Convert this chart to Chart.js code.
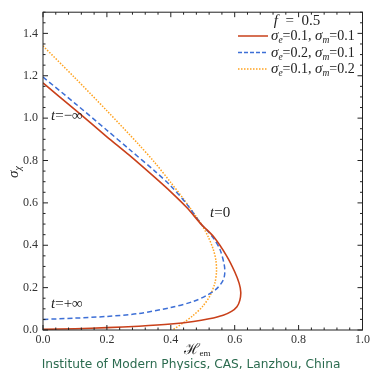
<!DOCTYPE html>
<html>
<head>
<meta charset="utf-8">
<script src="https://cdn.jsdelivr.net/npm/chart.js@4/dist/chart.umd.min.js"></script>
<style>
html,body{margin:0;padding:0;background:#fff;}
#wrap{width:373px;height:370px;}
</style>
</head>
<body>
<div id="wrap"><canvas id="c" width="373" height="370"></canvas></div>
<script>
// ---- data (parametric curves from t=-inf to t=+inf) ----
const redH   = [0, 0.1, 0.2, 0.27, 0.35, 0.4, 0.45, 0.497, 0.533, 0.575, 0.6, 0.614, 0.619, 0.616, 0.607, 0.59, 0.564, 0.52, 0.471, 0.4, 0.3, 0.2, 0.1, 0];
const redS   = [1.166, 1.04, 0.912, 0.825, 0.72, 0.652, 0.578, 0.496, 0.442, 0.349, 0.275, 0.22, 0.178, 0.14, 0.11, 0.088, 0.07, 0.053, 0.04, 0.028, 0.018, 0.011, 0.006, 0.003];
const blueH  = [0, 0.1, 0.2, 0.27, 0.35, 0.4, 0.45, 0.497, 0.512, 0.535, 0.554, 0.567, 0.569, 0.564, 0.543, 0.512, 0.471, 0.4, 0.3, 0.2, 0.1, 0];
const blueS  = [1.194, 1.07, 0.943, 0.853, 0.75, 0.68, 0.594, 0.496, 0.473, 0.43, 0.38, 0.31, 0.27, 0.235, 0.194, 0.163, 0.135, 0.106, 0.078, 0.064, 0.056, 0.05];
const orangeH = [0, 0.1, 0.2, 0.3, 0.35, 0.4, 0.44, 0.476, 0.497, 0.517, 0.533, 0.541, 0.543, 0.538, 0.523, 0.5, 0.471, 0.44, 0.405];
const orangeS = [1.341, 1.19, 1.035, 0.875, 0.79, 0.696, 0.618, 0.543, 0.496, 0.44, 0.38, 0.33, 0.275, 0.222, 0.163, 0.112, 0.07, 0.035, 0.0];
const seriesNames = [["0.1","0.1"],["0.2","0.1"],["0.1","0.2"]];
const xTicks = [0, 0.2, 0.4, 0.6, 0.8, 1.0];
const yTicks = [0, 0.2, 0.4, 0.6, 0.8, 1.0, 1.2, 1.4];
const xMinorStep = 0.04, yMinorStep = 0.05;
const footer = "Institute of Modern Physics, CAS, Lanzhou, China";

const toPts = (xs, ys) => xs.map((x, i) => ({x: x, y: ys[i]}));
const RED = '#c9401a', BLUE = '#3d6fd6', ORANGE = '#ffa21f';
const SERIF = "'Liberation Serif','Times New Roman',serif";

function rich(ctx, parts, x, y, align) {
  let w = 0;
  parts.forEach(p => { ctx.font = p[1]; w += ctx.measureText(p[0]).width; });
  let cx = align === 'center' ? x - w / 2 : (align === 'right' ? x - w : x);
  ctx.textAlign = 'left';
  parts.forEach(p => { ctx.font = p[1]; ctx.fillText(p[0], cx, y + (p[2] || 0)); cx += ctx.measureText(p[0]).width; });
}

const deco = {
  id: 'deco',
  afterDraw(chart) {
    const ctx = chart.ctx, a = chart.chartArea;
    const xs = chart.scales.x, ys = chart.scales.y;
    ctx.save();
    ctx.strokeStyle = '#222'; ctx.lineWidth = 1;
    ctx.strokeRect(a.left, a.top, a.right - a.left, a.bottom - a.top);
    ctx.beginPath();
    for (let i = 0; i <= Math.round(1 / xMinorStep); i++) {
      const v = i * xMinorStep, px = xs.getPixelForValue(v);
      const major = xTicks.some(t => Math.abs(t - v) < 1e-6);
      const L = major ? 5 : 2.5;
      ctx.moveTo(px, a.bottom); ctx.lineTo(px, a.bottom - L);
      ctx.moveTo(px, a.top); ctx.lineTo(px, a.top + L);
    }
    for (let i = 0; i <= Math.round(1.5 / yMinorStep); i++) {
      const v = i * yMinorStep, py = ys.getPixelForValue(v);
      const major = yTicks.some(t => Math.abs(t - v) < 1e-6);
      const L = major ? 5 : 2.5;
      ctx.moveTo(a.left, py); ctx.lineTo(a.left + L, py);
      ctx.moveTo(a.right, py); ctx.lineTo(a.right - L, py);
    }
    ctx.stroke();

    ctx.fillStyle = '#222';
    ctx.textBaseline = 'alphabetic';
    rich(ctx, [['f', 'italic 15px ' + SERIF], ['\u2002=\u20020.5', '15px ' + SERIF]], 297, 25, 'center');
    const cols = [RED, BLUE, ORANGE], dashes = [[], [4, 2], [1.5, 1.5]];
    const rows = [36, 52.5, 69];
    rows.forEach((ry, i) => {
      ctx.strokeStyle = cols[i]; ctx.lineWidth = 1.5; ctx.setLineDash(dashes[i]);
      ctx.beginPath(); ctx.moveTo(238, ry); ctx.lineTo(268, ry); ctx.stroke();
      ctx.setLineDash([]);
      ctx.fillStyle = '#222';
      rich(ctx, [
        ['σ', 'italic 15px ' + SERIF], ['e', 'italic 9.5px ' + SERIF, 3],
        ['=' + seriesNames[i][0] + ', ', '14px ' + SERIF],
        ['σ', 'italic 15px ' + SERIF], ['m', 'italic 9.5px ' + SERIF, 3],
        ['=' + seriesNames[i][1], '14px ' + SERIF]
      ], 271, ry + 4, 'left');
    });
    rich(ctx, [['t', 'italic 15px ' + SERIF], ['=−∞', '15px ' + SERIF]], 51, 120, 'left');
    rich(ctx, [['t', 'italic 15px ' + SERIF], ['=+∞', '15px ' + SERIF]], 51, 308, 'left');
    rich(ctx, [['t', 'italic 15px ' + SERIF], ['=0', '15px ' + SERIF]], 210, 217, 'left');
    rich(ctx, [['ℋ', '15px ' + SERIF], ['em', '9px ' + SERIF, 2]], 197, 354, 'center');
    ctx.save();
    ctx.translate(18, 172); ctx.rotate(-Math.PI / 2);
    rich(ctx, [['σ', 'italic 15px ' + SERIF], ['χ', 'italic 10px ' + SERIF, 3]], 0, 0, 'center');
    ctx.restore();
    ctx.fillStyle = '#2b6b4f';
    ctx.font = "12.2px 'DejaVu Sans', sans-serif";
    ctx.textAlign = 'center';
    ctx.fillText(footer, 191, 368);
    ctx.restore();
  }
};

new Chart(document.getElementById('c'), {
  type: 'scatter',
  data: {
    datasets: [
      {label: 'red', data: toPts(redH, redS), borderColor: RED, borderWidth: 1.6},
      {label: 'blue', data: toPts(blueH, blueS), borderColor: BLUE, borderWidth: 1.5, borderDash: [5, 3]},
      {label: 'orange', data: toPts(orangeH, orangeS), borderColor: ORANGE, borderWidth: 1.5, borderDash: [1.5, 1.5]}
    ].map(d => Object.assign(d, {showLine: true, pointRadius: 0, tension: 0.3, fill: false}))
  },
  options: {
    responsive: false,
    animation: false,
    layout: {padding: {top: 8, right: 8, left: 0, bottom: 0}},
    plugins: {legend: {display: false}, tooltip: {enabled: false}},
    scales: {
      x: {
        type: 'linear', min: 0, max: 1,
        grid: {display: false, drawTicks: false},
        border: {display: false},
        afterBuildTicks: s => { s.ticks = xTicks.map(v => ({value: v})); },
        afterFit: s => { s.height = 40; },
        ticks: {padding: 3, color: '#333', font: {family: SERIF, size: 12}, callback: v => Number(v).toFixed(1), maxRotation: 0, autoSkip: false}
      },
      y: {
        type: 'linear', min: 0, max: 1.5,
        grid: {display: false, drawTicks: false},
        border: {display: false},
        afterBuildTicks: s => { s.ticks = yTicks.map(v => ({value: v})); },
        afterFit: s => { s.width = 43; },
        ticks: {padding: 5, color: '#333', font: {family: SERIF, size: 12}, callback: v => Number(v).toFixed(1), autoSkip: false}
      }
    }
  },
  plugins: [deco]
});
</script>
</body>
</html>
